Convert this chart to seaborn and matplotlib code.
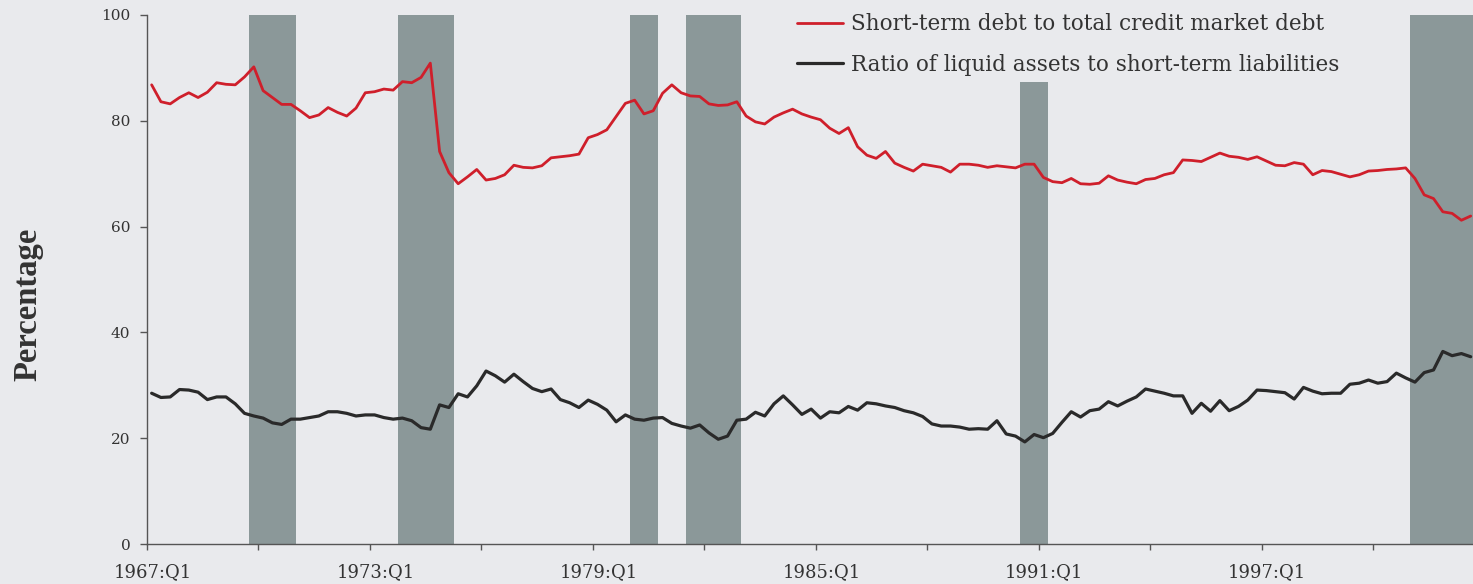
import numpy as np
import pandas as pd
import matplotlib
matplotlib.use("Agg")
import matplotlib.pyplot as plt
import seaborn as sns

# quarterly series, 1967:Q1 .. 2002:Q3
short_term_debt = [
    86.8, 83.6, 83.2, 84.4, 85.3, 84.4, 85.4, 87.2, 86.9, 86.8, 88.3, 90.2,
    85.7, 84.4, 83.1, 83.1, 81.9, 80.6, 81.1, 82.5, 81.6, 80.9, 82.4, 85.3,
    85.5, 86.0, 85.8, 87.4, 87.2, 88.2, 90.9, 74.2, 70.2, 68.1, 69.4, 70.8,
    68.8, 69.1, 69.8, 71.6, 71.2, 71.1, 71.5, 73.0, 73.2, 73.4, 73.7, 76.8,
    77.4, 78.3, 80.8, 83.3, 83.9, 81.3, 81.9, 85.2, 86.8, 85.3, 84.7, 84.6,
    83.2, 82.9, 83.0, 83.6, 80.9, 79.8, 79.4, 80.7, 81.5, 82.2, 81.3, 80.7,
    80.2, 78.6, 77.6, 78.7, 75.1, 73.5, 72.9, 74.2, 72.0, 71.2, 70.5, 71.8,
    71.5, 71.2, 70.3, 71.8, 71.8, 71.6, 71.2, 71.5, 71.3, 71.1, 71.8, 71.8,
    69.3, 68.5, 68.3, 69.1, 68.1, 68.0, 68.2, 69.6, 68.8, 68.4, 68.1, 68.9,
    69.1, 69.8, 70.2, 72.6, 72.5, 72.3, 73.1, 73.9, 73.3, 73.1, 72.7, 73.2,
    72.4, 71.6, 71.5, 72.1, 71.8, 69.8, 70.6, 70.4, 69.9, 69.4, 69.8, 70.5,
    70.6, 70.8, 70.9, 71.1, 69.1, 66.0, 65.3, 62.8, 62.5, 61.2, 62.0,
]
liquid_ratio = [
    28.5, 27.7, 27.8, 29.2, 29.1, 28.7, 27.3, 27.8, 27.8, 26.5, 24.7, 24.2,
    23.8, 22.9, 22.6, 23.6, 23.6, 23.9, 24.2, 25.0, 25.0, 24.7, 24.2, 24.4,
    24.4, 23.9, 23.6, 23.8, 23.3, 22.0, 21.7, 26.3, 25.8, 28.4, 27.8, 29.9,
    32.7, 31.8, 30.6, 32.1, 30.7, 29.4, 28.8, 29.3, 27.3, 26.7, 25.8, 27.2,
    26.4, 25.3, 23.1, 24.4, 23.6, 23.4, 23.8, 23.9, 22.8, 22.3, 21.9, 22.5,
    21.0, 19.8, 20.4, 23.4, 23.6, 24.9, 24.2, 26.5, 28.0, 26.3, 24.5, 25.5,
    23.8, 25.0, 24.8, 26.0, 25.3, 26.7, 26.5, 26.1, 25.8, 25.2, 24.8, 24.1,
    22.7, 22.3, 22.3, 22.1, 21.7, 21.8, 21.7, 23.3, 20.8, 20.4, 19.3, 20.7,
    20.1, 20.9, 23.0, 25.0, 24.0, 25.2, 25.5, 26.9, 26.1, 27.0, 27.8, 29.3,
    28.9, 28.5, 28.0, 28.0, 24.7, 26.6, 25.1, 27.1, 25.2, 26.0, 27.2, 29.1,
    29.0, 28.8, 28.6, 27.4, 29.6, 28.9, 28.4, 28.5, 28.5, 30.2, 30.4, 31.0,
    30.4, 30.7, 32.3, 31.4, 30.6, 32.4, 32.9, 36.4, 35.6, 36.0, 35.4,
]

# recession shading
rec_start = ["1969:Q4", "1973:Q4", "1980:Q1", "1981:Q3", "1990:Q3", "2001:Q1"]
rec_end = ["1970:Q4", "1975:Q1", "1980:Q3", "1982:Q4", "1991:Q1", "2002:Q3"]
rec_height = [100, 100, 100, 100, 87.3, 100]

tick_labels = ["1967:Q1", "1973:Q1", "1979:Q1", "1985:Q1", "1991:Q1", "1997:Q1"]

label_red = "Short-term debt to total credit market debt"
label_black = "Ratio of liquid assets to short-term liabilities"

quarters = [f"{1967 + k // 4}:Q{k % 4 + 1}" for k in range(len(short_term_debt))]
qidx = {q: k for k, q in enumerate(quarters)}

df = pd.DataFrame({
    "pos": np.arange(len(quarters)) + 0.5,
    "red": short_term_debt,
    "black": liquid_ratio,
})

sns.set_theme(style="ticks")
plt.rcParams["font.family"] = ["DejaVu Serif"]

bg = "#e9eaed"
ink = "#333333"
fig = plt.figure(figsize=(14.73, 5.84), dpi=100, facecolor=bg)
ax = fig.add_axes([147 / 1473, 40 / 584, 1326 / 1473, 529 / 584])
ax.set_facecolor(bg)

# recession bars
for s, e, h in zip(rec_start, rec_end, rec_height):
    a, b = qidx[s], qidx[e]
    ax.bar(a, h, width=b - a + 1, align="edge", color="#8b9899", linewidth=0, zorder=1)

sns.lineplot(data=df, x="pos", y="red", ax=ax, color="#cf1f2b", lw=2.0,
             label=label_red, zorder=3)
sns.lineplot(data=df, x="pos", y="black", ax=ax, color="#2a2a2a", lw=2.3,
             label=label_black, zorder=3)

ax.set_xlim(0, 142.75)
ax.set_ylim(0, 100)

# axes styling
for side in ["top", "right"]:
    ax.spines[side].set_visible(False)
for side in ["left", "bottom"]:
    ax.spines[side].set_color("#555555")
    ax.spines[side].set_linewidth(1.0)

ax.set_yticks([0, 20, 40, 60, 80, 100])
ax.tick_params(axis="y", direction="out", length=5, width=1.0, color="#555555",
               labelsize=11, labelcolor=ink, pad=7)

ax.set_xticks(np.arange(0, 143, 12))
ax.set_xticklabels([])
ax.tick_params(axis="x", which="major", direction="out", length=4.5, width=1.0,
               color="#555555")
ax.set_xticks(np.arange(len(tick_labels)) * 24 + 0.6, minor=True)
ax.set_xticklabels(tick_labels, minor=True)
ax.tick_params(axis="x", which="minor", length=0, labelsize=13, labelcolor=ink, pad=14)

ax.set_xlabel("")
ax.set_ylabel("Percentage", fontsize=23.5, fontweight="bold", color=ink,
              family="Liberation Serif")
ax.yaxis.set_label_coords(-0.078, 0.454)

leg = ax.legend(loc="upper left", bbox_to_anchor=(0.490, 1.003), frameon=False,
                fontsize=15.5, handlelength=2.15, handletextpad=0.35,
                labelspacing=0.86, borderpad=0, borderaxespad=0)
for t in leg.get_texts():
    t.set_color(ink)

fig.savefig("out.png", dpi=100, facecolor=bg)
